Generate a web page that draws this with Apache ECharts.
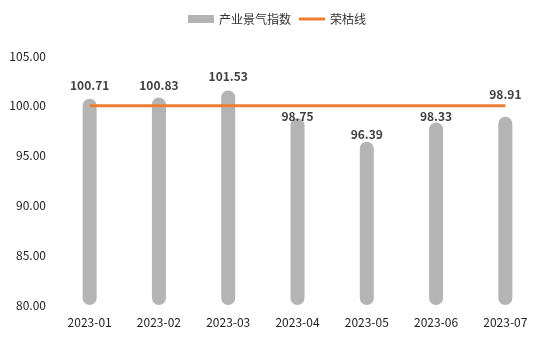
<!DOCTYPE html>
<html><head><meta charset="utf-8">
<script src="https://cdn.jsdelivr.net/npm/echarts@6/dist/echarts.min.js"></script>
<style>html,body{margin:0;padding:0;background:#fff}#c{width:554px;height:342px}</style>
</head><body><div id="c"></div>
<script>
const categories = ['2023-01','2023-02','2023-03','2023-04','2023-05','2023-06','2023-07'];
const indexValues = [100.71, 100.83, 101.53, 98.75, 96.39, 98.33, 98.91];
const boomLine = [100, 100, 100, 100, 100, 100, 100];
const yTicks = { min: 80, max: 105, interval: 5 };

// label styling (extra lift of each value label, px) — styling only
const labelLift = [7, 6, 8, -4, 1, 0, 16];
const font = '"Microsoft YaHei","Noto Sans CJK SC",sans-serif';
const chart = echarts.init(document.getElementById('c'));
chart.setOption({
  animation: false,
  textStyle: { fontFamily: font },
  legend: {
    top: 8, left: 'center', itemWidth: 26, itemHeight: 8, itemGap: 8,
    textStyle: { color: '#333', fontSize: 12, fontFamily: font },
    data: [
      { name: '产业景气指数', icon: 'rect' },
      { name: '荣枯线', icon: 'path://M0,0 L26,0 L26,3 L0,3 Z' }
    ]
  },
  grid: { left: 55, right: 14, top: 56, bottom: 37, containLabel: false },
  xAxis: {
    type: 'category', data: categories,
    axisLine: { show: false }, axisTick: { show: false },
    axisLabel: { color: '#222', fontSize: 12, margin: 11, fontFamily: font }
  },
  yAxis: {
    type: 'value', min: yTicks.min, max: yTicks.max, interval: yTicks.interval,
    splitLine: { show: false }, axisLine: { show: false }, axisTick: { show: false },
    axisLabel: { color: '#222', fontSize: 12, margin: 9, fontFamily: font, formatter: v => v.toFixed(2) }
  },
  series: [
    {
      name: '产业景气指数', type: 'bar', barWidth: 14,
      data: indexValues.map((v, i) => ({ value: v, label: { offset: [0, -labelLift[i]] } })),
      itemStyle: { color: '#b4b4b4', borderRadius: 7 },
      label: { show: true, position: 'top', distance: 0, color: '#404040', fontWeight: 'bold', fontSize: 12, fontFamily: font, formatter: p => p.value.toFixed(2) }
    },
    {
      name: '荣枯线', type: 'line', data: boomLine, symbol: 'none', z: 3,
      lineStyle: { color: '#ed7d31', width: 3 }, itemStyle: { color: '#ed7d31' }
    }
  ]
});
</script></body></html>
